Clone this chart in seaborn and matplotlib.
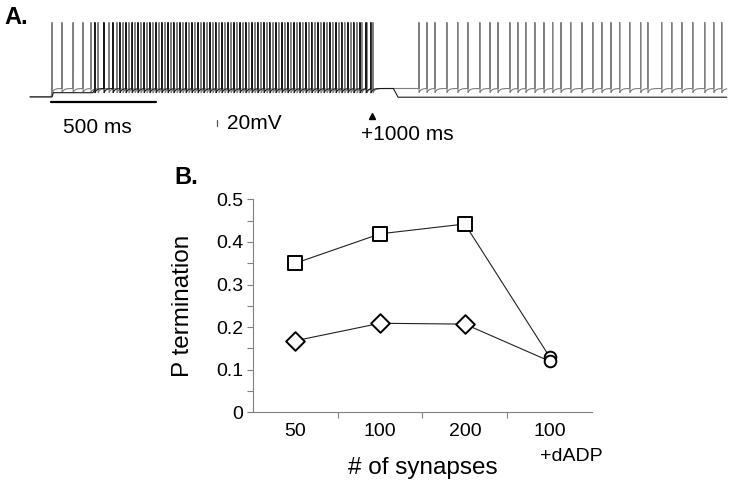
import numpy as np
import pandas as pd
import seaborn as sns
import matplotlib.pyplot as plt

sns.set_style('white')
plt.rcParams['font.family'] = ['Liberation Sans', 'DejaVu Sans']
plt.rcParams['text.color'] = 'black'
plt.rcParams['axes.labelcolor'] = 'black'
plt.rcParams['xtick.color'] = 'black'
plt.rcParams['ytick.color'] = 'black'

# ---- panel A: spike times (ms) ----
gray_spikes = [105, 152, 205, 252, 290, 324, 376, 414, 443, 471, 500, 528, 557, 585,
               614, 643, 671, 700, 728, 757, 785, 814, 843, 871, 900, 928, 957, 985,
               1014, 1042, 1071, 1100, 1128, 1157, 1185, 1214, 1242, 1271, 1299, 1328,
               1357, 1385, 1414, 1442, 1471, 1499, 1528, 1557, 1580, 1604, 1633,
               1852, 1890, 1928, 1985, 2037, 2085, 2142, 2190, 2228, 2285, 2323, 2361,
               2404, 2447, 2489, 2528, 2575, 2628, 2680, 2723, 2766, 2808, 2856, 2908,
               2942, 3008, 3056, 3104, 3156, 3213, 3256, 3294]
black_spikes = [309, 352, 395, 428, 457, 486, 514, 543, 571, 600, 628, 657, 685, 714,
                743, 771, 800, 828, 857, 885, 914, 943, 971, 1000, 1028, 1057, 1085,
                1114, 1142, 1171, 1200, 1228, 1257, 1285, 1314, 1342, 1371, 1400, 1428,
                1457, 1485, 1514, 1542, 1571, 1600, 1623]
gray_base_t = [0, 100, 108, 3318]
gray_base_v = [-90, -90, -62, -62]
black_base_t = [0, 105, 110, 300, 310, 1730, 1752, 3318]
black_base_v = [-90, -90, -76, -76, -62, -62, -91, -91]
spike_peak = 158

# ---- panel B ----
conditions = ['50', '100', '200', '100']
square_vals = [0.35, 0.419, 0.442, 0.13]
diamond_vals = [0.168, 0.209, 0.207, 0.12]
square_marks = ['square', 'square', 'square', 'circle']
diamond_marks = ['diamond', 'diamond', 'diamond', 'circle']
y_ticks = [0, 0.1, 0.2, 0.3, 0.4, 0.5]
y_ticklabels = ['0', '0.1', '0.2', '0.3', '0.4', '0.5']


def make_trace(base_t, base_v, spikes):
    t = np.arange(0, 3318.5, 0.5)
    v = np.interp(t, base_t, base_v)
    for ts in spikes:
        after = t > ts
        v[after] += -14 * np.exp(-(t[after] - ts) / 9.0)
        v[np.argmin(np.abs(t - ts))] = spike_peak
    return pd.DataFrame({'t': t, 'v': v})


fig = plt.figure(figsize=(7.34, 4.87), dpi=100)

axa = fig.add_axes([0, 1 - 150 / 487, 1, 150 / 487])
gray_df = make_trace(gray_base_t, gray_base_v, gray_spikes)
black_df = make_trace(black_base_t, black_base_v, black_spikes)
sns.lineplot(data=gray_df, x='t', y='v', estimator=None, sort=False,
             color='#7f7f7f', lw=0.8, ax=axa)
sns.lineplot(data=black_df, x='t', y='v', estimator=None, sort=False,
             color='#1a1a1a', lw=0.8, ax=axa)
axa.set_xlim(-143, 3352)
axa.set_ylim(-267, 233)
axa.axis('off')

# scale bars and marks
axa.plot([100, 600], [-107, -107], color='black', lw=1.6)
axa.plot([890, 890], [-188, -168], color='#555555', lw=0.9)
axa.text(157, -193, '500 ms', fontsize=15, va='center', ha='left')
axa.text(938, -180, '20mV', fontsize=15, va='center', ha='left')
axa.plot([1628], [-153], marker='^', color='black', ms=5)
axa.text(1575, -217, '+1000 ms', fontsize=15, va='center', ha='left')

fig.text(4 / 734, 1 - 17 / 487, 'A.', fontsize=17, fontweight='bold', va='center')
fig.text(174 / 734, 1 - 177 / 487, 'B.', fontsize=17, fontweight='bold', va='center')

axb = fig.add_axes([253 / 734, 1 - 412.3 / 487, 339 / 734, 213 / 487])
pos = list(range(len(conditions)))
df = pd.DataFrame({
    'pos': pos + pos,
    'p': square_vals + diamond_vals,
    'series': ['sq'] * 4 + ['di'] * 4,
    'mark': square_marks + diamond_marks,
})
sns.lineplot(data=df, x='pos', y='p', units='series', estimator=None, sort=False,
             color='#222222', lw=0.8, ax=axb)
for kind, m, s in [('square', 's', 110), ('diamond', 'D', 90), ('circle', 'o', 70)]:
    sub = df[df['mark'] == kind]
    sns.scatterplot(data=sub, x='pos', y='p', marker=m, s=s, color='white',
                    edgecolor='black', linewidth=1.4, zorder=3, ax=axb)

axb.set_xlim(-0.5, 3.5)
axb.set_ylim(0, 0.5)
axb.set_yticks(y_ticks)
axb.set_yticklabels(y_ticklabels)
axb.set_yticks([0.05, 0.15, 0.25, 0.35, 0.45], minor=True)
axb.set_xticks(pos)
axb.set_xticklabels(conditions)
axb.set_xticks([0.5, 1.5, 2.5], minor=True)
axb.tick_params(axis='x', which='major', length=0, pad=8, labelsize=14)
axb.tick_params(axis='x', which='minor', length=4, width=0.8, color='#808080', direction='out')
axb.tick_params(axis='y', which='both', length=4, width=0.8, color='#808080',
                direction='out', pad=3, labelsize=14)
axb.tick_params(left=True, bottom=True, which='both')
for side in ['top', 'right']:
    axb.spines[side].set_visible(False)
for side in ['left', 'bottom']:
    axb.spines[side].set_color('#808080')
    axb.spines[side].set_linewidth(0.8)
axb.text(3.26, -0.208, '+dADP', transform=axb.get_xaxis_transform(),
         fontsize=14, ha='center', va='center')
axb.set_xlabel('# of synapses', fontsize=17.5, labelpad=12)
axb.set_ylabel('P termination', fontsize=17.5, labelpad=16)

fig.savefig('out.png', dpi=100)
